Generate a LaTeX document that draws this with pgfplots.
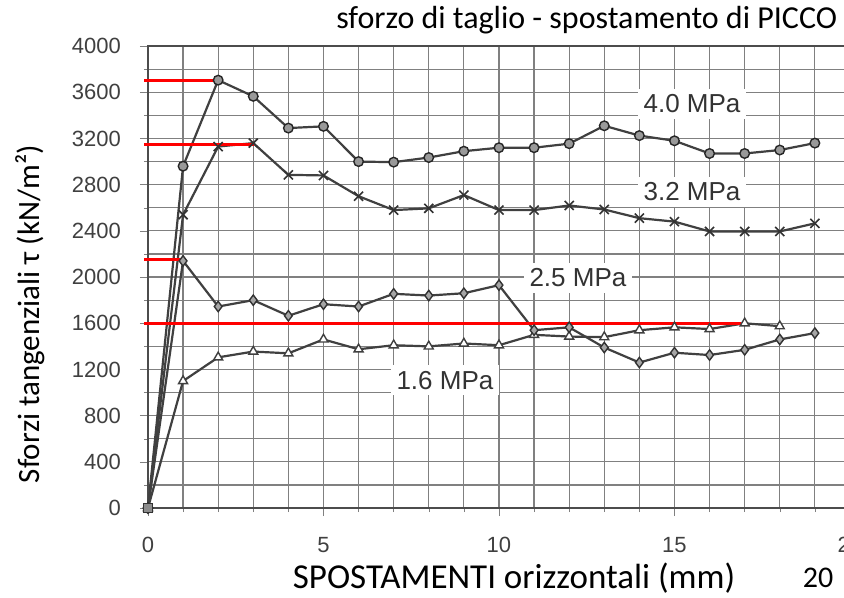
\documentclass[border=0pt]{standalone}
\usepackage{fontspec}
\setmainfont{Liberation Sans}
\newfontfamily\calibri{Carlito}
\usepackage{pgfplots}
\pgfplotsset{compat=1.18}

\begin{document}
\begin{tikzpicture}
\begin{axis}[
    scale only axis,
    width=351pt, height=231pt,
    xmin=0, xmax=20, ymin=0, ymax=4000,
    xtick={0,5,...,20}, minor x tick num=4,
    ytick={0,400,...,4000}, minor y tick num=1,
    grid=both,
    major grid style={black!50, line width=0.6pt},
    minor grid style={black!50, line width=0.6pt},
    tick align=outside, tick pos=left,
    major tick length=4pt, minor tick length=2pt,
    /pgf/number format/assume math mode=true,
    /pgf/number format/1000 sep={},
    ticklabel style={font=\fontsize{11}{13}\selectfont, text=black!75},
    xticklabel style={yshift=-7pt},
    yticklabel style={xshift=-6pt},
    axis line style={black!70, line width=0.8pt},
    clip=false,
]

% 1.6 MPa
\addplot[black!75, line width=1.1pt, mark=triangle*, mark size=2.6pt,
    mark options={fill=white, draw=black!75, line width=0.7pt}] coordinates {
    (0,0) (1,1100) (2,1305) (3,1355) (4,1340) (5,1460) (6,1375) (7,1410)
    (8,1400) (9,1425) (10,1410) (11,1500) (12,1485) (13,1480) (14,1540)
    (15,1565) (16,1550) (17,1600) (18,1575)
};
% 2.5 MPa
\addplot[black!75, line width=1.1pt, mark=diamond*, mark size=2.6pt,
    mark options={fill=black!35, draw=black!80, line width=0.7pt}] coordinates {
    (0,0) (1,2140) (2,1745) (3,1800) (4,1665) (5,1765) (6,1745) (7,1855)
    (8,1840) (9,1860) (10,1930) (11,1540) (12,1565) (13,1390) (14,1260)
    (15,1345) (16,1325) (17,1370) (18,1460) (19,1515)
};
% 3.2 MPa
\addplot[black!75, line width=1.1pt, mark=x, mark size=3.2pt,
    mark options={draw=black!80, line width=0.8pt}] coordinates {
    (0,0) (1,2540) (2,3130) (3,3160) (4,2885) (5,2880) (6,2700) (7,2580)
    (8,2595) (9,2710) (10,2580) (11,2580) (12,2620) (13,2585) (14,2510)
    (15,2480) (16,2395) (17,2395) (18,2395) (19,2465)
};
% 4.0 MPa
\addplot[black!75, line width=1.1pt, mark=*, mark size=2.4pt,
    mark options={fill=black!40, draw=black!85, line width=0.7pt}] coordinates {
    (0,0) (1,2960) (2,3705) (3,3565) (4,3290) (5,3305) (6,3000) (7,2995)
    (8,3035) (9,3090) (10,3120) (11,3120) (12,3155) (13,3310) (14,3225)
    (15,3180) (16,3070) (17,3070) (18,3100) (19,3160)
};
% origin
\addplot[only marks, mark=square*, mark size=2.4pt,
    mark options={fill=black!45, draw=black!80}] coordinates {(0,0)};

% red reference lines
\addplot[red, line width=1.5pt] coordinates {(-0.1,3700) (2.02,3700)};
\addplot[red, line width=1.5pt] coordinates {(-0.1,3150) (3.02,3150)};
\addplot[red, line width=1.5pt] coordinates {(-0.1,2150) (0.99,2150)};
\addplot[red, line width=1.5pt] coordinates {(-0.1,1600) (16.9,1600)};

% series labels
\node[fill=white, inner sep=3pt, font=\fontsize{13}{15}\selectfont, text=black!80]
    at (axis cs:15.5,3500) {4.0 MPa};
\node[fill=white, inner sep=3pt, font=\fontsize{13}{15}\selectfont, text=black!80]
    at (axis cs:15.5,2737) {3.2 MPa};
\node[fill=white, inner sep=3pt, font=\fontsize{13}{15}\selectfont, text=black!80]
    at (axis cs:12.25,1992) {2.5 MPa};
\node[fill=white, inner sep=3pt, font=\fontsize{13}{15}\selectfont, text=black!80]
    at (axis cs:8.46,1108) {1.6 MPa};

% titles and labels
\node[anchor=east, fill=white, inner sep=2pt, font=\calibri\fontsize{16}{18}\selectfont]
    at (axis cs:19.76,4225) {sforzo di taglio - spostamento di PICCO};
\node[rotate=90, font=\calibri\fontsize{15.5}{18}\selectfont]
    at (axis cs:-3.36,1680) {Sforzi tangenziali τ (kN/m²)};
\node[font=\calibri\fontsize{17.5}{20}\selectfont]
    at (axis cs:10.43,-606) {SPOSTAMENTI orizzontali (mm)};
\node[font=\calibri\fontsize{15}{17}\selectfont]
    at (axis cs:19.09,-606) {20};

\coordinate (bl) at (axis cs:-4.216,-771);
\coordinate (tr) at (axis cs:19.83,4399);
\end{axis}
\pgfresetboundingbox
\useasboundingbox (bl) rectangle (tr);
\end{tikzpicture}
\end{document}
